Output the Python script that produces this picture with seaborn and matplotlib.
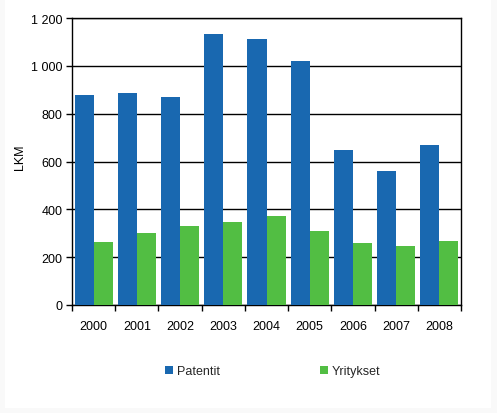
import matplotlib
matplotlib.use("Agg")
import matplotlib.pyplot as plt
import seaborn as sns
import pandas as pd
from matplotlib.patches import Rectangle

years = ["2000", "2001", "2002", "2003", "2004", "2005", "2006", "2007", "2008"]
patentit = [879, 887, 871, 1134, 1113, 1021, 649, 561, 670]
yritykset = [264, 301, 331, 347, 373, 310, 260, 247, 268]
series_names = ["Patentit", "Yritykset"]
colors = ["#1968B0", "#52BE43"]
y_ticks = [0, 200, 400, 600, 800, 1000, 1200]
y_tick_labels = ["0", "200", "400", "600", "800", "1 000", "1 200"]
y_label = "LKM"

df = pd.DataFrame({
    "Vuosi": years * 2,
    "Arvo": patentit + yritykset,
    "Sarja": [series_names[0]] * len(years) + [series_names[1]] * len(years),
})

sns.set_theme(style="white")
plt.rcParams["font.family"] = ["Liberation Sans", "DejaVu Sans"]
plt.rcParams["font.size"] = 9

W, H = 497, 414
fig = plt.figure(figsize=(W / 100, H / 100), dpi=100)
fig.patch.set_facecolor("#f9f9f9")
fig.patches.append(Rectangle((5 / W, 5 / H), 486 / W, 1 - 5 / H,
                             transform=fig.transFigure, facecolor="white",
                             edgecolor="none", zorder=-10))

left, right, top, bottom = 72, 461, 19, 306
ax = fig.add_axes([left / W, 1 - bottom / H, (right - left) / W, (bottom - top) / H])
ax.set_facecolor("white")

sns.barplot(data=df, x="Vuosi", y="Arvo", hue="Sarja", palette=colors,
            width=0.88, gap=0, saturation=1, ax=ax, errorbar=None, zorder=3)
for p in ax.patches:
    p.set_edgecolor("none")
    p.set_linewidth(0)

ax.set_ylim(0, 1200)
ax.set_xlim(-0.5, len(years) - 0.5)
ax.set_yticks(y_ticks)
ax.set_yticklabels(y_tick_labels)
ax.yaxis.grid(True, color="black", linewidth=1, zorder=0)
ax.set_axisbelow(True)

# x: major ticks at category boundaries, labels on minor ticks
ax.set_xticks([i - 0.5 for i in range(len(years) + 1)])
ax.set_xticklabels([])
ax.set_xticks(range(len(years)), minor=True)
ax.set_xticklabels(years, minor=True)
ax.tick_params(axis="x", which="major", direction="out", length=4, width=1, color="black", bottom=True)
ax.tick_params(axis="x", which="minor", length=0, pad=11, labelsize=9, labelcolor="black")
ax.tick_params(axis="y", direction="out", length=4, width=1, color="black", left=True, pad=3,
               labelsize=9, labelcolor="black")

for s in ax.spines.values():
    s.set_visible(True)
    s.set_color("black")
    s.set_linewidth(1)

ax.set_xlabel("")
ax.set_ylabel(y_label, fontsize=9, color="black")
ax.yaxis.set_label_coords((26 - left) / (right - left), 0.52)

handles, labels = ax.get_legend_handles_labels()
ax.get_legend().remove()
handle_x = [165, 320]
for h, l, hx in zip(handles, labels, handle_x):
    fig.legend([h], [l], loc="center left", bbox_to_anchor=(hx / W, 1 - 372 / H),
               frameon=False, fontsize=9, handlelength=0.62, handleheight=0.62,
               handletextpad=0.35, borderpad=0, borderaxespad=0)

fig.savefig("out.png", dpi=100, facecolor=fig.get_facecolor())
